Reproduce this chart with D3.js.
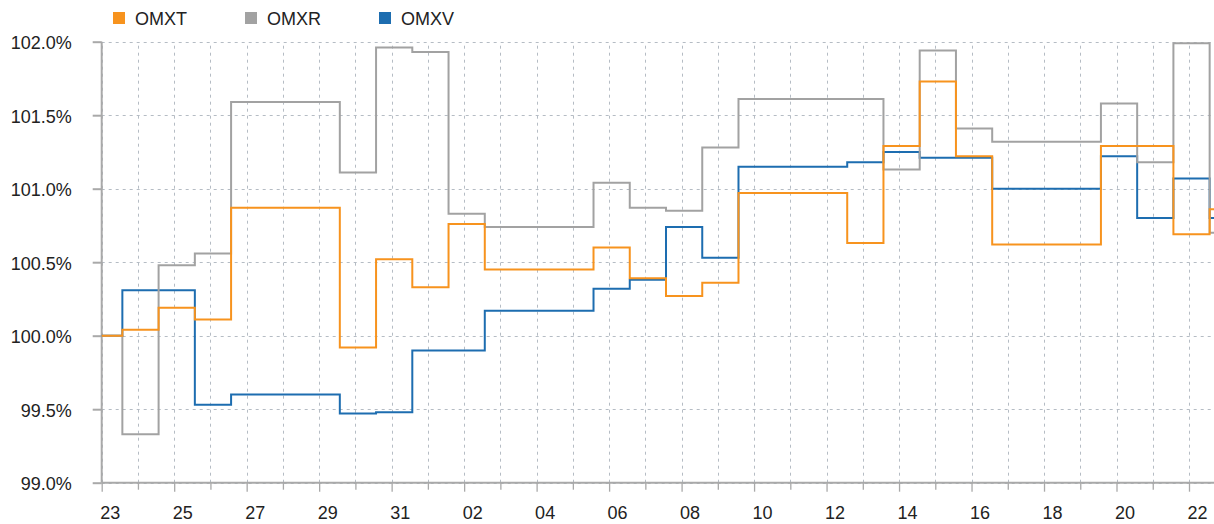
<!DOCTYPE html>
<html>
<head>
<meta charset="utf-8">
<script src="https://cdn.jsdelivr.net/npm/d3@7"></script>
<style>
  body { margin: 0; background: #fff; }
  text { font-family: "Liberation Sans", Arial, sans-serif; }
</style>
</head>
<body>
<div id="chart"></div>
<script>
// day-of-month labels, one per day
const days = ['23', '24', '25', '26', '27', '28', '29', '30', '31', '01', '02', '03', '04', '05', '06', '07',
  '08', '09', '10', '11', '12', '13', '14', '15', '16', '17', '18', '19', '20', '21', '22'];
const yTicks = [99.0, 99.5, 100.0, 100.5, 101.0, 101.5, 102.0];
const seriesNames = ['OMXT', 'OMXR', 'OMXV'];

// index level in %, first value is the base, then one value per daily close
const omxt = [100.00, 100.04, 100.19, 100.11, 100.87, 100.87, 100.87, 99.92, 100.52, 100.33, 100.76,
  100.45, 100.45, 100.45, 100.60, 100.39, 100.27, 100.36, 100.97, 100.97, 100.97, 100.63, 101.29,
  101.73, 101.22, 100.62, 100.62, 100.62, 101.29, 101.29, 100.69, 100.86];
const omxr = [100.00, 99.33, 100.48, 100.56, 101.59, 101.59, 101.59, 101.11, 101.96, 101.93, 100.83,
  100.74, 100.74, 100.74, 101.04, 100.87, 100.85, 101.28, 101.61, 101.61, 101.61, 101.61, 101.13,
  101.94, 101.41, 101.32, 101.32, 101.32, 101.58, 101.18, 101.99, 100.70];
const omxv = [100.00, 100.31, 100.31, 99.53, 99.60, 99.60, 99.60, 99.47, 99.48, 99.90, 99.90,
  100.17, 100.17, 100.17, 100.32, 100.38, 100.74, 100.53, 101.15, 101.15, 101.15, 101.18, 101.25,
  101.21, 101.21, 101.00, 101.00, 101.00, 101.22, 100.80, 101.07, 100.80];

const colors = { OMXT: '#f7931e', OMXR: '#a2a2a2', OMXV: '#1d6db0' };
const seriesData = { OMXT: omxt, OMXR: omxr, OMXV: omxv };

const width = 1214, height = 524;
const margin = { top: 41.7, right: 0, bottom: 41.3, left: 101.7 };
const closeFrac = 0.57;   // time of day of the close
const xMax = 30.69;

const x = d3.scaleLinear().domain([0, xMax]).range([margin.left, width - margin.right]);
const y = d3.scaleLinear().domain([99, 102]).range([height - margin.bottom, margin.top]);

const svg = d3.select('#chart').append('svg')
  .attr('width', width)
  .attr('height', height);

// grid
const grid = svg.append('g').attr('class', 'grid')
  .attr('stroke', '#b5bcc4')
  .attr('stroke-width', 1)
  .attr('stroke-dasharray', '3,4');

grid.selectAll('.hgrid')
  .data(yTicks)
  .enter().append('line')
  .attr('x1', x(0)).attr('x2', width)
  .attr('y1', d => Math.round(y(d)) + 0.5).attr('y2', d => Math.round(y(d)) + 0.5);

grid.selectAll('.vgrid')
  .data(days)
  .enter().append('line')
  .attr('x1', (d, i) => Math.round(x(i)) + 0.5).attr('x2', (d, i) => Math.round(x(i)) + 0.5)
  .attr('y1', y(99)).attr('y2', y(102));

// axes
const xAxis = d3.axisBottom(x)
  .tickValues(days.map((d, i) => i))
  .tickSize(7)
  .tickFormat(i => (i % 2 === 0 ? days[i] : ''));

const gx = svg.append('g')
  .attr('class', 'x axis')
  .attr('transform', 'translate(0,' + y(99) + ')')
  .call(xAxis);
gx.select('.domain').attr('d', 'M' + x(0) + ',0H' + width).attr('stroke', '#a9a9a9').attr('stroke-width', 2);
gx.selectAll('.tick line').attr('stroke', '#a9a9a9').attr('stroke-width', 1.3)
  .attr('y2', (d, i) => (i % 2 === 0 ? 9 : 7));
gx.selectAll('.tick text')
  .attr('y', 24)
  .attr('dy', '0.71em')
  .attr('text-anchor', 'start')
  .attr('x', -2)
  .attr('fill', '#222')
  .style('font-size', '18px');

const yAxis = d3.axisLeft(y)
  .tickValues(yTicks)
  .tickSize(9)
  .tickFormat(d => d.toFixed(1) + '%');

const gy = svg.append('g')
  .attr('class', 'y axis')
  .attr('transform', 'translate(' + x(0) + ',0)')
  .call(yAxis);
gy.select('.domain').attr('d', 'M0,' + y(102) + 'V' + y(99)).attr('stroke', '#a9a9a9').attr('stroke-width', 2);
gy.selectAll('.tick line').attr('stroke', '#a9a9a9').attr('stroke-width', 2);
gy.selectAll('.tick text')
  .attr('x', -30)
  .attr('dy', '0.4em')
  .attr('fill', '#222')
  .style('font-size', '18px');
svg.selectAll('.axis').attr('font-family', null).attr('font-size', null);

// lines
const line = d3.line()
  .x(d => x(d.t))
  .y(d => y(d.v))
  .curve(d3.curveStepAfter);

function toPoints(vals) {
  const pts = vals.map((v, k) => ({ t: k === 0 ? 0 : k - 1 + closeFrac, v: v }));
  pts.push({ t: xMax, v: vals[vals.length - 1] });
  return pts;
}

const drawOrder = ['OMXV', 'OMXR', 'OMXT'];
svg.append('g').attr('class', 'lines')
  .selectAll('path')
  .data(drawOrder)
  .enter().append('path')
  .attr('fill', 'none')
  .attr('stroke', d => colors[d])
  .attr('stroke-width', 2)
  .attr('d', d => line(toPoints(seriesData[d])));

// legend
const legend = svg.append('g').attr('class', 'legend');
let lx = 113;
seriesNames.forEach(name => {
  const item = legend.append('g').attr('transform', 'translate(' + lx + ',0)');
  item.append('rect')
    .attr('x', 0).attr('y', 12)
    .attr('width', 12).attr('height', 12)
    .attr('fill', colors[name]);
  const t = item.append('text')
    .attr('x', 22).attr('y', 25)
    .attr('fill', '#222')
    .style('font-size', '18px')
    .text(name);
  lx += 22 + t.node().getComputedTextLength() + 58;
});
</script>
</body>
</html>
